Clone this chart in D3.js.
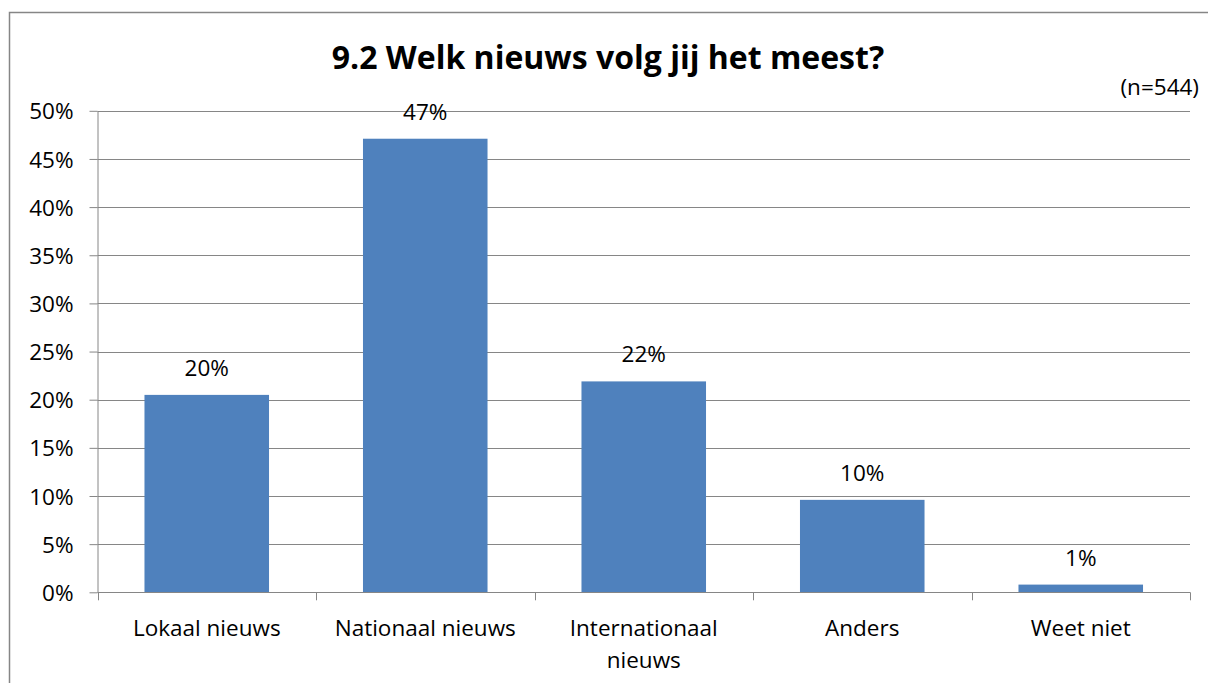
<!DOCTYPE html>
<html><head><meta charset="utf-8">
<script src="https://cdn.jsdelivr.net/npm/d3@7"></script>
<style>body{margin:0;background:#fff}svg{display:block}text{font-family:"Open Sans",sans-serif;fill:#000}</style>
</head><body>
<script>
const categories = ["Lokaal nieuws","Nationaal nieuws","Internationaal nieuws","Anders","Weet niet"];
const values = [20.5, 47.1, 21.9, 9.6, 0.8];
const valueLabels = ["20%","47%","22%","10%","1%"];
const yTicks = [0,5,10,15,20,25,30,35,40,45,50];
const title = "9.2 Welk nieuws volg jij het meest?";
const note = "(n=544)";

(function(){
const W=1208,H=683,FS=22.5;
const svg=d3.select("body").append("svg").attr("width",W).attr("height",H);
svg.append("rect").attr("x",9.5).attr("y",12.5).attr("width",W).attr("height",H).attr("fill","#fff").attr("stroke","#868686").attr("stroke-width",1.5);

const pLeft=97.5,pRight=1190,pTop=110.8,pBottom=592.3;
const x=d3.scaleBand().domain(categories).range([pLeft,pRight]).paddingInner(0.43).paddingOuter(0.215);
const y=d3.scaleLinear().domain([0,50]).range([pBottom,pTop]);

svg.append("g").selectAll("line").data(yTicks.filter(d=>d>0)).join("line")
 .attr("x1",pLeft).attr("x2",pRight).attr("y1",d=>Math.round(y(d))+0.5).attr("y2",d=>Math.round(y(d))+0.5)
 .attr("stroke","#868686").attr("stroke-width",1);

svg.append("g").selectAll("rect").data(values).join("rect")
 .attr("x",(d,i)=>x(categories[i])).attr("width",x.bandwidth())
 .attr("y",d=>y(d)).attr("height",d=>pBottom-y(d)).attr("fill","#4F81BD");

const ya=svg.append("g").attr("transform",`translate(${pLeft},0)`)
 .call(d3.axisLeft(y).tickValues(yTicks).tickFormat(d=>d+"%").tickSize(8).tickSizeOuter(0));
ya.select(".domain").attr("stroke","#868686");
ya.selectAll(".tick line").attr("stroke","#868686");
ya.selectAll(".tick text").attr("x",-24).attr("dy","0.36em").attr("font-size",FS).attr("font-family","Open Sans").attr("fill","#000");

const bounds=categories.map(c=>x(c)-x.step()*x.paddingInner()/2).concat([pRight]);
bounds[0]=pLeft;
svg.append("line").attr("x1",pLeft).attr("x2",pRight).attr("y1",Math.round(pBottom)+0.5).attr("y2",Math.round(pBottom)+0.5).attr("stroke","#868686");
svg.append("g").selectAll("line").data(bounds).join("line")
 .attr("x1",d=>Math.round(d)+0.5).attr("x2",d=>Math.round(d)+0.5).attr("y1",pBottom).attr("y2",pBottom+8).attr("stroke","#868686");

const cl=svg.append("g").selectAll("text").data(categories).join("text")
 .attr("text-anchor","middle").attr("font-size",FS)
 .attr("transform",d=>`translate(${x(d)+x.bandwidth()/2},636)`);
cl.each(function(d){
  const t=d3.select(this);
  const lines = d==="Internationaal nieuws" ? ["Internationaal","nieuws"] : [d];
  lines.forEach((l,i)=>t.append("tspan").attr("x",0).attr("dy",i?32:0).text(l));
});

svg.append("g").selectAll("text").data(values).join("text")
 .attr("text-anchor","middle").attr("font-size",FS)
 .attr("x",(d,i)=>x(categories[i])+x.bandwidth()/2).attr("y",d=>y(d)-19)
 .text((d,i)=>valueLabels[i]);

svg.append("text").attr("x",608).attr("y",69).attr("text-anchor","middle").attr("font-size",32).attr("font-weight","bold").text(title);
svg.append("text").attr("x",1199).attr("y",95).attr("text-anchor","end").attr("font-size",FS).text(note);
})();
</script>
</body></html>
